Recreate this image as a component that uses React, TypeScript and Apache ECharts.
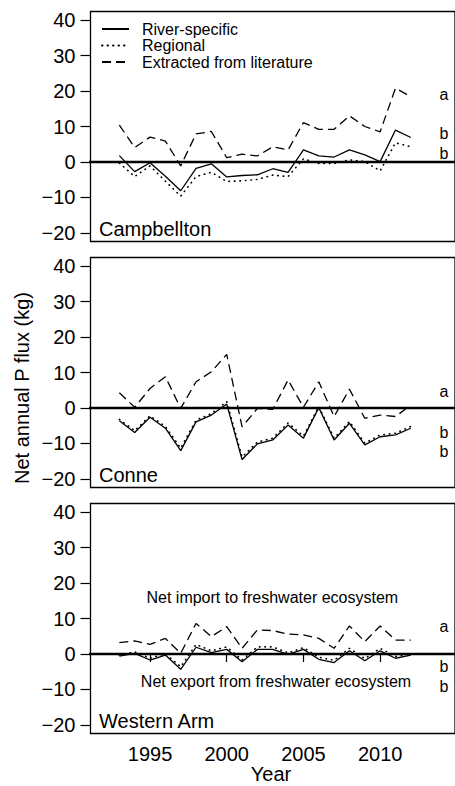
import React, { useEffect, useRef } from "react";
import * as echarts from "echarts";

const years = [1993, 1994, 1995, 1996, 1997, 1998, 1999, 2000, 2001, 2002, 2003, 2004, 2005, 2006, 2007, 2008, 2009, 2010, 2011, 2012];

const campRiver = [1.8, -2.7, -0.2, -4.0, -8.1, -1.8, -0.5, -4.2, -3.8, -3.6, -1.9, -2.9, 3.4, 1.7, 1.4, 3.4, 2.0, 0.1, 9.0, 6.9];
const campRegional = [-0.3, -4.1, -1.1, -5.4, -9.6, -4.1, -2.9, -5.5, -5.3, -4.9, -3.7, -4.1, 0.9, -0.4, -0.4, 0.6, 0.1, -2.5, 5.4, 4.3];
const campLit = [10.4, 4.1, 7.0, 5.9, -1.1, 7.9, 8.6, 1.2, 2.2, 1.7, 4.3, 3.4, 11.1, 9.2, 9.2, 13.0, 10.0, 8.5, 20.8, 18.4];

const conneRiver = [-3.6, -6.9, -2.6, -5.7, -12.0, -3.9, -2.0, 1.1, -14.5, -10.1, -9.0, -4.8, -8.5, 0.1, -9.0, -4.3, -10.4, -8.1, -7.6, -5.7];
const conneRegional = [-3.2, -6.4, -2.2, -5.2, -11.3, -3.4, -1.6, 1.8, -13.8, -9.6, -8.5, -4.2, -7.9, 0.4, -8.5, -3.8, -9.9, -7.6, -7.1, -5.2];
const conneLit = [4.3, 0.2, 5.5, 8.8, -0.1, 7.4, 10.2, 15.1, -5.3, -0.1, -0.4, 7.9, 0.2, 7.4, -2.4, 5.3, -2.9, -2.0, -2.4, 0.8];

const westRiver = [-0.6, 0.2, -1.7, -0.3, -4.3, 1.9, 0.4, 1.3, -2.2, 1.3, 1.3, -0.1, 1.3, -1.5, -2.4, 0.9, -1.9, 0.9, -1.2, -0.3];
const westRegional = [-0.3, 0.6, -1.2, 0.1, -3.6, 2.7, 0.9, 2.0, -1.7, 2.0, 2.0, 0.3, 1.8, -0.9, -1.8, 1.6, -1.3, 1.6, -0.7, 0.1];
const westLit = [3.2, 3.7, 2.7, 4.4, 0.2, 8.6, 4.9, 7.7, 1.6, 6.8, 6.6, 5.6, 5.4, 4.4, 1.6, 7.9, 3.5, 7.9, 3.9, 3.9];

const panelNames = ["Campbellton", "Conne", "Western Arm"];
const groupLetters = ["a", "b", "b"];
const seriesNames = ["River-specific", "Regional", "Extracted from literature"];
const xTicks = [1995, 2000, 2005, 2010];
const yTicks = [-20, -10, 0, 10, 20, 30, 40];
const importText = "Net import to freshwater ecosystem";
const exportText = "Net export from freshwater ecosystem";
const xTitle = "Year";
const yTitle = "Net annual P flux (kg)";

const FONT = "'Liberation Sans', Arial, Helvetica, sans-serif";

export default function App() {
  const ref = useRef<HTMLDivElement>(null);
  useEffect(() => {
    if (!ref.current) return;
    const chart = echarts.init(ref.current, undefined, { renderer: "svg" });
    const panels = [
      { river: campRiver, regional: campRegional, lit: campLit },
      { river: conneRiver, regional: conneRegional, lit: conneLit },
      { river: westRiver, regional: westRegional, lit: westLit },
    ];
    const tops = [11.5, 257.5, 503.5];
    const H = 230;
    const letterY = [
      [94.3, 133.3, 153.3],
      [391.7, 432.3, 451.7],
      [626.7, 666.7, 686.7],
    ];
    const pairs = (vals: number[]) => years.map((y, j) => [y, vals[j]]);

    const grid = tops.map((t) => ({
      left: 90.5,
      top: t,
      width: 382.5,
      height: H,
      show: true,
      borderColor: "#000",
      borderWidth: 1.3,
      backgroundColor: "transparent",
    }));
    const xAxis = tops.map((_, i) => ({
      type: "value",
      gridIndex: i,
      min: 1991.12,
      max: 2014.88,
      axisLine: { show: false },
      splitLine: { show: false },
      axisTick: {
        show: i === 2,
        customValues: xTicks,
        length: 8,
        lineStyle: { color: "#000", width: 1.2 },
      },
      axisLabel: {
        show: i === 2,
        customValues: xTicks,
        fontSize: 20,
        color: "#000",
        fontFamily: FONT,
        margin: 10,
        formatter: (v: number) => String(v),
      },
    }));
    const yAxis = tops.map((_, i) => ({
      type: "value",
      gridIndex: i,
      min: -22.4,
      max: 42.4,
      axisLine: { show: false },
      splitLine: { show: false },
      axisTick: {
        show: true,
        customValues: yTicks,
        length: 10,
        lineStyle: { color: "#000", width: 1.2 },
      },
      axisLabel: {
        customValues: yTicks,
        fontSize: 20,
        color: "#000",
        fontFamily: FONT,
        margin: 15,
        formatter: (v: number) => String(v).replace("-", "\u2212"),
      },
    }));

    const series: any[] = [];
    panels.forEach((p, i) => {
      series.push({
        type: "line",
        name: seriesNames[2],
        xAxisIndex: i,
        yAxisIndex: i,
        data: pairs(p.lit),
        symbol: "none",
        showSymbol: false,
        lineStyle: { color: "#000", width: 1.3, type: [9, 5] },
        itemStyle: { color: "#000" },
      });
      series.push({
        type: "line",
        name: seriesNames[0],
        xAxisIndex: i,
        yAxisIndex: i,
        data: pairs(p.river),
        symbol: "none",
        showSymbol: false,
        lineStyle: { color: "#000", width: 1.3, type: "solid" },
        itemStyle: { color: "#000" },
      });
      series.push({
        type: "line",
        name: seriesNames[1],
        xAxisIndex: i,
        yAxisIndex: i,
        data: pairs(p.regional),
        symbol: "none",
        showSymbol: false,
        lineStyle: { color: "#000", width: 1.6, type: [0.5, 5], cap: "round" },
        itemStyle: { color: "#000" },
      });
      series.push({
        type: "line",
        name: "zero",
        xAxisIndex: i,
        yAxisIndex: i,
        data: [
          [1990.5, 0],
          [2015, 0],
        ],
        clip: false,
        symbol: "none",
        showSymbol: false,
        silent: true,
        lineStyle: { color: "#000", width: 2.6 },
        z: 5,
      });
    });

    const graphic: any[] = [];
    panelNames.forEach((n, i) => {
      graphic.push({
        type: "text",
        x: 99,
        y: tops[i] + H - 13,
        style: { text: n, font: `20px ${FONT}`, fill: "#000", textVerticalAlign: "middle", textAlign: "left" },
      });
      groupLetters.forEach((l, k) => {
        graphic.push({
          type: "text",
          x: 444,
          y: letterY[i][k],
          style: { text: l, font: `16px ${FONT}`, fill: "#000", textVerticalAlign: "middle", textAlign: "center" },
        });
      });
    });
    graphic.push({
      type: "text",
      x: 272.3,
      y: 597.3,
      style: { text: importText, font: `16px ${FONT}`, fill: "#000", textAlign: "center", textVerticalAlign: "middle" },
    });
    graphic.push({
      type: "text",
      x: 276,
      y: 681.7,
      style: { text: exportText, font: `16px ${FONT}`, fill: "#000", textAlign: "center", textVerticalAlign: "middle" },
    });
    graphic.push({
      type: "text",
      x: 271,
      y: 774,
      style: { text: xTitle, font: `20px ${FONT}`, fill: "#000", textAlign: "center", textVerticalAlign: "middle" },
    });
    graphic.push({
      type: "text",
      x: 22,
      y: 388,
      rotation: Math.PI / 2,
      style: { text: yTitle, font: `20px ${FONT}`, fill: "#000", textAlign: "center", textVerticalAlign: "middle" },
    });

    chart.setOption({
      animation: false,
      backgroundColor: "#fff",
      grid,
      xAxis,
      yAxis,
      series,
      legend: {
        data: seriesNames,
        orient: "vertical",
        left: 101,
        top: 21,
        itemWidth: 27,
        itemHeight: 12,
        itemGap: 0.5,
        padding: 0,
        selectedMode: false,
        itemStyle: { opacity: 0 },
        textStyle: { fontSize: 16, lineHeight: 16, color: "#000", fontFamily: FONT, padding: [0, 0, 0, 8] },
      },
      graphic,
    });
    return () => chart.dispose();
  }, []);
  return <div ref={ref} style={{ position: "absolute", left: 0, top: 0, width: 455, height: 786 }} />;
}
